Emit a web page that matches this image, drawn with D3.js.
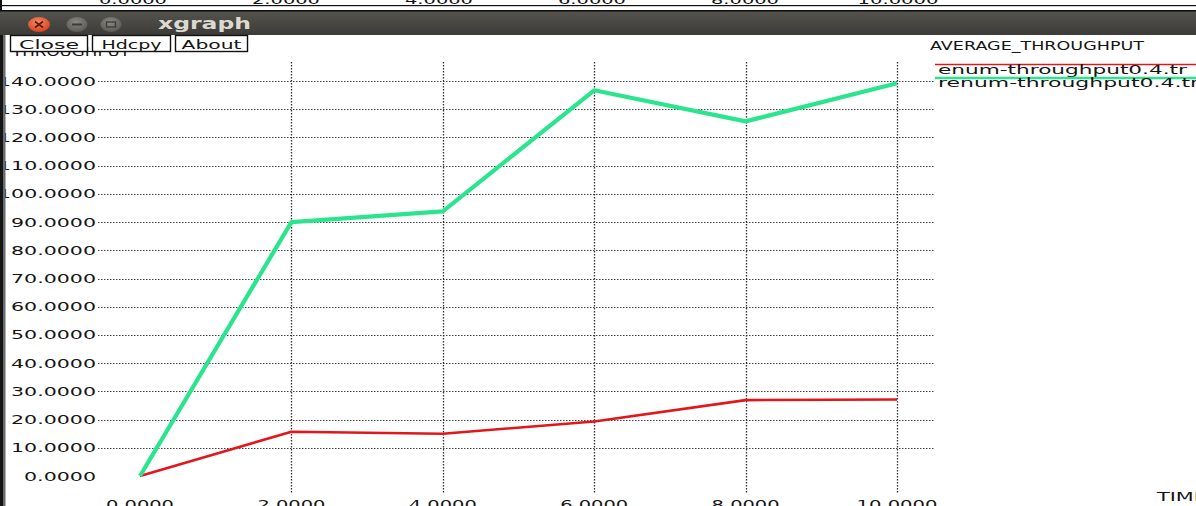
<!DOCTYPE html>
<html>
<head>
<meta charset="utf-8">
<script src="https://cdn.jsdelivr.net/npm/d3@7/dist/d3.min.js"></script>
<style>
  html, body { margin: 0; padding: 0; background: #fff; overflow: hidden; }
  svg { display: block; }
  text { font-family: "DejaVu Sans", "Liberation Sans", sans-serif; }
</style>
</head>
<body>
<svg id="chart" width="1196" height="506"></svg>
<script>
// Simulation time (x) and average throughput per trace file (y)
const times = [0, 2, 4, 6, 8, 10];
const enumThroughput = [0, 15.7, 15.0, 19.3, 26.9, 27.1];
const renumThroughput = [0, 90.0, 93.8, 136.7, 125.7, 139.2];

const seriesNames = ["enum-throughput0.4.tr", "renum-throughput0.4.tr"];
const seriesColors = ["#e3161b", "#2be58e"];

const xTicks = [0, 2, 4, 6, 8, 10];
const yTicks = [0, 10, 20, 30, 40, 50, 60, 70, 80, 90, 100, 110, 120, 130, 140];

const windowTitle = "xgraph";
const buttonLabels = ["Close", "Hdcpy", "About"];
const chartTitle = "AVERAGE_THROUGHPUT";
const yTitle = "THROUGHPUT";
const xTitle = "TIME";

const W = 1196, H = 506;
const svg = d3.select("#chart");
const fmt = d3.format(".4f");

// xgraph's bitmap font is wide; stretch each label to its natural width
const numWidth = s => s.split("").reduce((a, c) => a + (c === "." ? 7 : 13), 0);

function stretchedText(g, str, x, y, width, anchor, opts = {}) {
  let x0 = x;
  if (anchor === "end") x0 = x - width;
  if (anchor === "middle") x0 = x - width / 2;
  return g.append("text")
    .attr("x", x0).attr("y", y)
    .attr("textLength", width)
    .attr("lengthAdjust", "spacingAndGlyphs")
    .attr("font-size", opts.size || 12.5)
    .attr("font-weight", opts.weight || "normal")
    .attr("fill", opts.fill || "#151515")
    .text(str);
}

const x = d3.scaleLinear().domain([0, 10]).range([140, 897]);
const y = d3.scaleLinear().domain([0, 140]).range([476, 81]);

// ---- window strip behind (another xgraph's x labels peeking out) ----
const back = svg.append("g");
const xBack = d3.scaleLinear().domain([0, 10]).range([133, 898]);
xTicks.forEach(t => {
  const s = fmt(t);
  stretchedText(back, s, xBack(t), 3.5, numWidth(s) - 4, "middle");
});
back.append("rect").attr("x", 0).attr("y", 5).attr("width", W).attr("height", 1.2).attr("fill", "#111");
back.append("rect").attr("x", 0).attr("y", 0).attr("width", 2).attr("height", 10).attr("fill", "#111");

// ---- title bar ----
const defs = svg.append("defs");
const barGrad = defs.append("linearGradient").attr("id", "bar").attr("x1", 0).attr("y1", 0).attr("x2", 0).attr("y2", 1);
barGrad.append("stop").attr("offset", "0%").attr("stop-color", "#55544f");
barGrad.append("stop").attr("offset", "100%").attr("stop-color", "#3c3b37");
const closeGrad = defs.append("radialGradient").attr("id", "closeBtn").attr("cx", "45%").attr("cy", "35%").attr("r", "65%");
closeGrad.append("stop").attr("offset", "0%").attr("stop-color", "#f58a6a");
closeGrad.append("stop").attr("offset", "100%").attr("stop-color", "#d9421c");
const grayGrad = defs.append("radialGradient").attr("id", "grayBtn").attr("cx", "45%").attr("cy", "35%").attr("r", "65%");
grayGrad.append("stop").attr("offset", "0%").attr("stop-color", "#8a8983");
grayGrad.append("stop").attr("offset", "100%").attr("stop-color", "#5b5a55");

const bar = svg.append("g");
bar.append("rect").attr("x", 0).attr("y", 10).attr("width", W).attr("height", 25).attr("fill", "url(#bar)");
bar.append("rect").attr("x", 0).attr("y", 10).attr("width", W).attr("height", 1.5).attr("fill", "#0c0c0c");

bar.append("ellipse").attr("cx", 39).attr("cy", 24.5).attr("rx", 11).attr("ry", 7.5).attr("fill", "url(#closeBtn)");
bar.append("path").attr("d", "M35,21.5 L43,27.5 M43,21.5 L35,27.5").attr("stroke", "#5a1d0c").attr("stroke-width", 1.6);
bar.append("ellipse").attr("cx", 77).attr("cy", 24.5).attr("rx", 10.5).attr("ry", 7.5).attr("fill", "url(#grayBtn)");
bar.append("rect").attr("x", 72).attr("y", 23.5).attr("width", 10).attr("height", 2).attr("fill", "#3c3b37");
bar.append("ellipse").attr("cx", 111).attr("cy", 24.5).attr("rx", 10.5).attr("ry", 7.5).attr("fill", "url(#grayBtn)");
bar.append("rect").attr("x", 106.5).attr("y", 22).attr("width", 9).attr("height", 5).attr("fill", "none").attr("stroke", "#3c3b37").attr("stroke-width", 1.3);
stretchedText(bar, windowTitle, 158, 28.5, 93, "start", { size: 15, weight: "bold", fill: "#dcd9d1" });

// grid
const grid = svg.append("g");
grid.selectAll("line.h").data(yTicks.filter(d => d !== 0)).join("line")
  .attr("class", "h")
  .attr("x1", 98).attr("x2", 935)
  .attr("y1", d => Math.round(y(d)) + 0.5).attr("y2", d => Math.round(y(d)) + 0.5)
  .attr("stroke", "#444").attr("stroke-width", 1).attr("stroke-dasharray", "1.5,1.5");
grid.selectAll("line.v").data(xTicks.filter(d => d !== 0)).join("line")
  .attr("class", "v")
  .attr("x1", d => Math.round(x(d)) + 0.5).attr("x2", d => Math.round(x(d)) + 0.5)
  .attr("y1", 62).attr("y2", 494)
  .attr("stroke", "#333").attr("stroke-width", 1.3).attr("stroke-dasharray", "1.5,1.5");

// y tick labels (right-aligned beside the grid)
const yl = svg.append("g");
yTicks.forEach(t => {
  const s = fmt(t);
  stretchedText(yl, s, 96, y(t) + 4.5, numWidth(s), "end");
});
// x tick labels
const xl = svg.append("g");
xTicks.forEach(t => {
  const s = fmt(t);
  stretchedText(xl, s, x(t), 508.5, numWidth(s) - 4, "middle");
});
stretchedText(svg.append("g"), xTitle, 1157, 501, 50, "start");

// series lines
const line = d3.line().x(d => x(d[0])).y(d => y(d[1]));
const series = [
  { name: seriesNames[0], values: enumThroughput, color: seriesColors[0], width: 2.6 },
  { name: seriesNames[1], values: renumThroughput, color: seriesColors[1], width: 4.2 }
];
svg.append("g").selectAll("path").data(series).join("path")
  .attr("d", s => line(times.map((t, i) => [t, s.values[i]])))
  .attr("fill", "none")
  .attr("stroke", s => s.color)
  .attr("stroke-width", s => s.width)
  .attr("stroke-linejoin", "round");

// legend
const lg = svg.append("g");
stretchedText(lg, chartTitle, 930, 49.5, 214, "start");
const legendLineY = [64.5, 78];
const legendTextY = [73.5, 87];
const legendWidths = [249, 261];
series.forEach((s, i) => {
  lg.append("line").attr("x1", 935).attr("x2", W).attr("y1", legendLineY[i]).attr("y2", legendLineY[i])
    .attr("stroke", s.color).attr("stroke-width", i === 0 ? 1.6 : 2.4);
  stretchedText(lg, s.name, 938, legendTextY[i], legendWidths[i], "start");
});

// y axis title, partly hidden under the button row
stretchedText(svg.append("g"), yTitle, 12, 55.5, 118, "start");

// button row
const btnX = [10, 92, 175];
const btnW = [77, 78, 72];
const btns = svg.append("g");
buttonLabels.forEach((b, i) => {
  btns.append("rect").attr("x", btnX[i] + 0.5).attr("y", 35.5).attr("width", btnW[i]).attr("height", 16)
    .attr("fill", "#fff").attr("stroke", "#111").attr("stroke-width", 1.4);
  stretchedText(btns, b, btnX[i] + btnW[i] / 2 + 0.5, 48.5, 60, "middle", { size: 13 });
});

// dark window frame on the left edge, over the clipped label starts
const frame = svg.append("g");
frame.append("rect").attr("x", 0).attr("y", 35).attr("width", 3).attr("height", H - 35).attr("fill", "#151515");
frame.append("rect").attr("x", 3).attr("y", 35).attr("width", 2.5).attr("height", H - 35).attr("fill", "#6b6b6b");
</script>
</body>
</html>
